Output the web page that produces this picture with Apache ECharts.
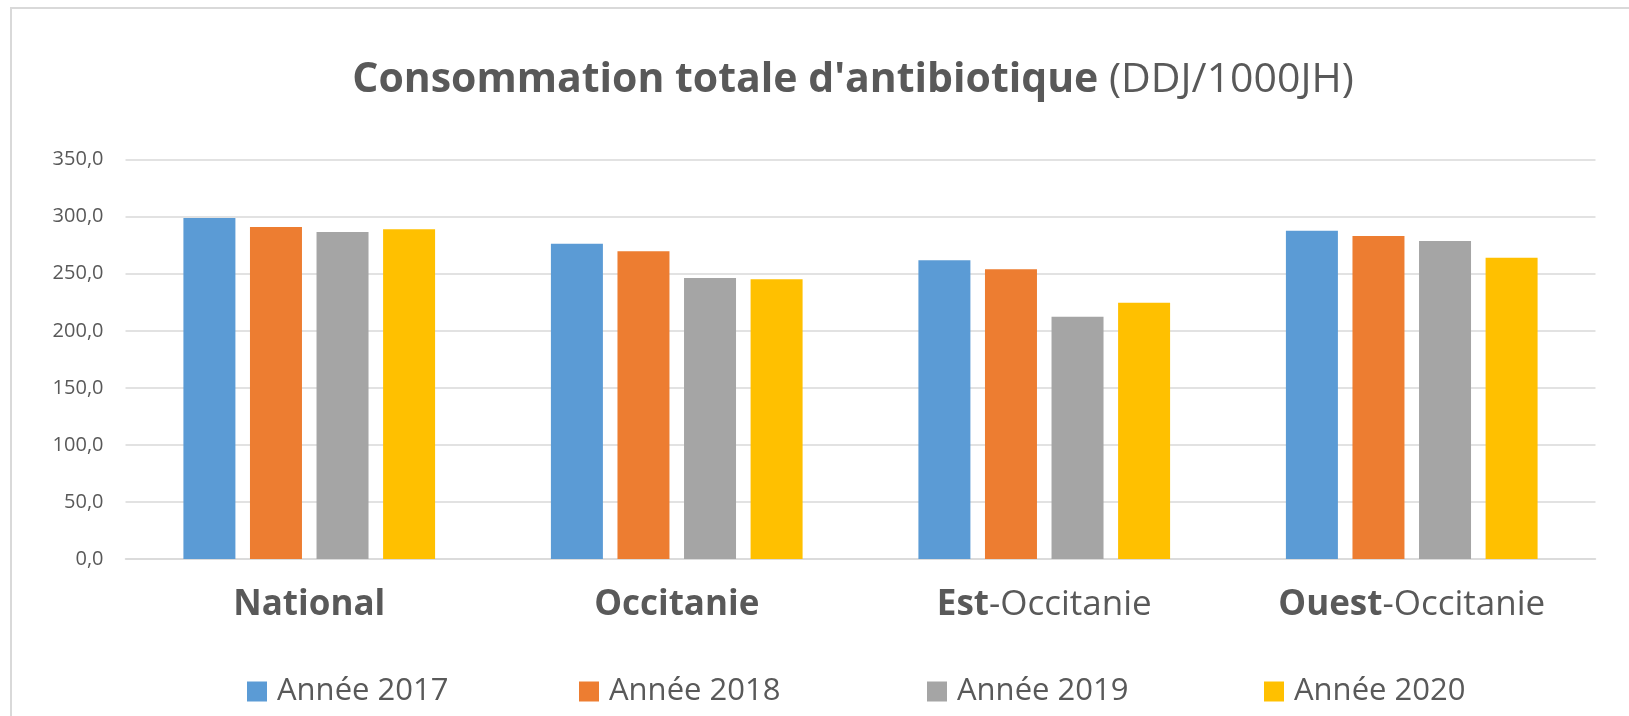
<!DOCTYPE html>
<html>
<head>
<meta charset="utf-8">
<title>Consommation totale d'antibiotique</title>
<script src="https://cdn.jsdelivr.net/npm/echarts@6/dist/echarts.min.js"></script>
<style>
    html, body {
        margin: 0;
        padding: 0;
        background: #fff;
    }
    #chartBar {
        width: 1629px;
        height: 716px;
    }
</style>
</head>
<body>
<div id="chartBar"></div>
<script>
    // données (DDJ/1000JH)
    var categories = ['National', 'Occitanie', 'Est-Occitanie', 'Ouest-Occitanie'];
    var years = ['Année 2017', 'Année 2018', 'Année 2019', 'Année 2020'];
    var values2017 = [298.9, 276.4, 261.8, 287.8];
    var values2018 = [291.0, 269.7, 253.9, 283.1];
    var values2019 = [286.6, 246.3, 212.4, 278.8];
    var values2020 = [289.0, 245.2, 224.7, 264.1];
    var yTicks = [0, 50, 100, 150, 200, 250, 300, 350];

    var colors = ['#5B9BD5', '#ED7D31', '#A5A5A5', '#FFC000'];
    var seriesValues = [values2017, values2018, values2019, values2020];
    var legendLeft = [242, 574, 922, 1259];
    var font = '"Open Sans", "Noto Sans", sans-serif';
    var textColor = '#595959';

    var chartBar = echarts.init(document.getElementById('chartBar'));

    var options = {
        animation: false,
        color: colors,
        textStyle: {fontFamily: font},
        graphic: [{
            type: 'rect',
            silent: true,
            shape: {x: 11, y: 8, width: 1700, height: 800},
            style: {fill: 'none', stroke: '#d9d9d9', lineWidth: 2}
        }],
        title: {
            text: "{b|Consommation totale d'antibiotique}{n| (DDJ/1000JH)}",
            left: 848,
            top: 50,
            textAlign: 'center',
            textStyle: {
                rich: {
                    b: {fontFamily: font, fontSize: 41, fontWeight: 'bold', color: textColor, lineHeight: 50},
                    n: {fontFamily: font, fontSize: 41, fontWeight: 'normal', color: textColor, lineHeight: 50}
                }
            }
        },
        legend: years.map(function (name, i) {
            return {
                data: [name],
                left: legendLeft[i],
                top: 671,
                icon: 'rect',
                itemWidth: 20,
                itemHeight: 20,
                textStyle: {fontFamily: font, fontSize: 31, color: textColor, padding: [0, 0, 0, 5]}
            };
        }),
        grid: {
            left: 125.5,
            right: 33.5,
            top: 159.7,
            bottom: 157,
            containLabel: false
        },
        xAxis: {
            type: 'category',
            data: categories,
            axisLine: {show: true, lineStyle: {color: '#d9d9d9', width: 1.5}},
            axisTick: {show: false},
            axisLabel: {
                margin: 24,
                formatter: function (value) {
                    var k = value.indexOf('-');
                    if (k < 0) {
                        return '{b|' + value + '}';
                    }
                    return '{b|' + value.slice(0, k) + '}{n|' + value.slice(k) + '}';
                },
                rich: {
                    b: {fontFamily: font, fontSize: 35, fontWeight: 'bold', color: textColor, lineHeight: 44},
                    n: {fontFamily: font, fontSize: 35, fontWeight: 'normal', color: textColor, lineHeight: 44}
                }
            }
        },
        yAxis: {
            type: 'value',
            min: yTicks[0],
            max: yTicks[yTicks.length - 1],
            interval: 50,
            axisLine: {show: false},
            axisTick: {show: false},
            splitLine: {lineStyle: {color: '#d9d9d9', width: 1.5}},
            axisLabel: {
                margin: 22,
                fontFamily: font,
                fontSize: 20,
                color: textColor,
                formatter: function (v) {
                    return v.toFixed(1).replace('.', ',');
                }
            }
        },
        series: years.map(function (name, i) {
            return {
                name: name,
                type: 'bar',
                data: seriesValues[i],
                barWidth: 52,
                barGap: '28%',
                itemStyle: {color: colors[i]}
            };
        })
    };

    chartBar.setOption(options);
</script>
</body>
</html>
